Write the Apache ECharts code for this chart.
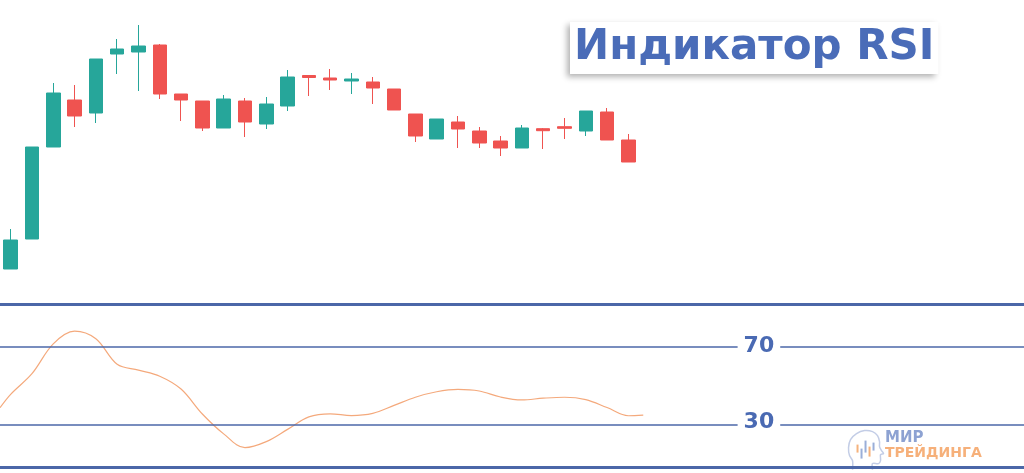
<!DOCTYPE html>
<html>
<head>
<meta charset="utf-8">
<style>
html,body{margin:0;padding:0;background:#fff;}
#chart{width:1024px;height:473px;}
</style>
<script src="https://cdn.jsdelivr.net/npm/echarts@6/dist/echarts.min.js"></script>
</head>
<body>
<div id="chart"></div>
<script>
// Candle categories (bar index)
const categories = Array.from({length: 30}, (_, i) => 'C' + (i + 1));
// [open, close, low, high]
const candles = [
  [31, 60, 31, 71],
  [61, 153, 61, 153],
  [153, 207, 153, 217],
  [200, 184, 173, 215],
  [187, 241, 177, 241],
  [246, 251, 226, 261],
  [248, 254, 209, 275],
  [255, 206, 201, 256],
  [206, 200, 179, 206],
  [199, 172, 169, 199],
  [172, 201, 172, 205],
  [199, 178, 163, 202],
  [176, 196, 171, 203],
  [194, 223, 189, 230],
  [224.5, 222.5, 204, 225],
  [222, 220, 210, 231],
  [219, 221, 206, 227],
  [218, 212, 196, 223],
  [211, 190, 190, 211],
  [186, 164, 158, 186],
  [161, 181, 161, 181],
  [178, 171, 152, 184],
  [169, 157, 152, 173],
  [159, 152, 144, 164],
  [152, 172, 152, 175],
  [171.3, 169.3, 151, 172],
  [173.3, 171.7, 161, 182],
  [169, 189, 164, 189],
  [188, 160, 160, 192],
  [160, 138, 138, 166]
];
// RSI positions (in candle index units) and values
const rsiIndex = [-0.5, 0, 1, 2, 3, 4, 5, 6, 7, 8, 9, 10, 11, 12, 13, 14, 15, 16, 17, 18, 19, 20, 21, 22, 23, 24, 25, 26, 27, 28, 29, 29.7];
const rsiValues = [38.5, 45.4, 56.0, 71.3, 77.8, 73.9, 60.8, 57.8, 54.7, 48.1, 35.3, 25.1, 18.0, 21.1, 27.4, 33.8, 35.4, 34.5, 35.6, 39.7, 43.9, 46.7, 47.9, 47.1, 44.0, 42.5, 43.4, 43.9, 42.7, 38.6, 34.4, 34.7];
// RSI levels
const rsiLevels = [70, 30];
const rsiBounds = [91.8, 8.2];
const levelLabels = ['70', '30'];
const labelIndex = 35.13;

const UP = '#26a69a', DOWN = '#ef5350', LINE = '#4b67a8', TXT = '#4a6ab3';

const chart = echarts.init(document.getElementById('chart'), null, {renderer: 'canvas'});
chart.setOption({
  animation: false,
  backgroundColor: '#ffffff',
  title: {
    text: 'Индикатор RSI',
    left: 570, top: 23,
    padding: [5, 4],
    backgroundColor: '#ffffff',
    shadowBlur: 6,
    shadowColor: 'rgba(0,0,0,0.3)',
    shadowOffsetX: -3,
    shadowOffsetY: 3,
    textStyle: {
      fontFamily: 'DejaVu Sans', fontWeight: 'bold', fontSize: 42, lineHeight: 40, color: '#4a6cb8'
    }
  },
  grid: [
    {left: 0, top: 0, width: 639, height: 300},
    {left: 0, right: 0, top: 297.7, height: 176.2}
  ],
  xAxis: [
    {type: 'category', gridIndex: 0, data: categories, show: false, boundaryGap: true},
    {type: 'value', gridIndex: 1, min: -0.5, max: -0.5 + 1024 / 21.3, show: false}
  ],
  yAxis: [
    {type: 'value', gridIndex: 0, min: 0, max: 300, show: false},
    {type: 'value', gridIndex: 1, min: 5, max: 95, show: false}
  ],
  series: [
    {
      type: 'candlestick', xAxisIndex: 0, yAxisIndex: 0,
      data: candles, barWidth: 14,
      itemStyle: {color: UP, color0: DOWN, borderColor: UP, borderColor0: DOWN, borderWidth: 1}
    },
    {
      type: 'line', xAxisIndex: 1, yAxisIndex: 1,
      data: rsiIndex.map((x, i) => [x, rsiValues[i]]),
      smooth: 0.35, symbol: 'none',
      lineStyle: {color: '#f4a97c', width: 1.2},
      markLine: {
        silent: true, symbol: 'none', label: {show: false},
        data: [
          {yAxis: rsiLevels[0], lineStyle: {color: LINE, width: 1.5, type: 'solid'}},
          {yAxis: rsiLevels[1], lineStyle: {color: LINE, width: 1.5, type: 'solid'}},
          {yAxis: rsiBounds[0], lineStyle: {color: LINE, width: 3, type: 'solid'}},
          {yAxis: rsiBounds[1], lineStyle: {color: LINE, width: 3, type: 'solid'}}
        ]
      },
      markPoint: {
        symbol: 'rect', symbolSize: 0, silent: true,
        label: {
          show: true, position: 'inside', color: TXT, fontFamily: 'DejaVu Sans', fontWeight: 'bold', fontSize: 22,
          backgroundColor: '#ffffff', padding: [2, 6], formatter: p => p.name
        },
        data: [
          {name: levelLabels[0], coord: [labelIndex, rsiLevels[0]]},
          {name: levelLabels[1], coord: [labelIndex, rsiLevels[1] + 1.2]}
        ]
      }
    }
  ],
  graphic: [
    {
      type: 'group', left: 846, top: 428, silent: true,
      children: [
        {type: 'polyline', shape: {points: [[4,39],[4,30],[1,25],[0,17],[2,9],[8,3],[16,0],[24,1],[29,5],[31,11],[31,16],[33,20],[35,23],[32,24],[32,30],[30,33],[24,33],[24,39]], smooth: 0.3},
          style: {fill: 'none', stroke: '#c3cde6', lineWidth: 1.5}},
        {type: 'rect', shape: {x: 8, y: 14, width: 2, height: 8}, style: {fill: '#f5b27c'}},
        {type: 'rect', shape: {x: 12, y: 18, width: 2, height: 10}, style: {fill: '#9aaed8'}},
        {type: 'rect', shape: {x: 16, y: 10, width: 2, height: 12}, style: {fill: '#9aaed8'}},
        {type: 'rect', shape: {x: 20, y: 16, width: 2, height: 10}, style: {fill: '#f5b27c'}},
        {type: 'rect', shape: {x: 24, y: 12, width: 2, height: 8}, style: {fill: '#9aaed8'}}
      ]
    },
    {type: 'text', left: 885, top: 431, silent: true,
      style: {text: 'МИР', fill: '#8da2d2', font: 'bold 15px "DejaVu Sans"'}},
    {type: 'text', left: 885, top: 446, silent: true,
      style: {text: 'ТРЕЙДИНГА', fill: '#f6b07a', font: 'bold 14px "DejaVu Sans"'}}
  ]
});
</script>
</body>
</html>
